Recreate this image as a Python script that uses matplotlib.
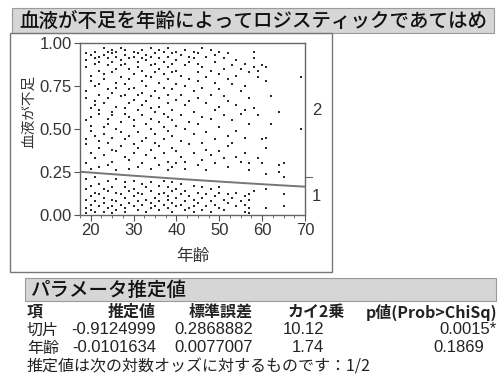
import numpy as np
import matplotlib
matplotlib.use("Agg")
import matplotlib.pyplot as plt
from matplotlib.patches import Rectangle

# JMP logistic fit output: 血液が不足 vs 年齢
title = "血液が不足を年齢によってロジスティックであてはめ"
xlabel = "年齢"
ylabel = "血液が不足"

# points above the fitted curve (level 2), grouped by age
ages_hi = [19, 20, 21, 22, 23, 24, 25, 26, 27, 28, 29, 30, 31, 32, 33, 34, 35, 36, 37, 38,
           39, 40, 41, 42, 43, 44, 45, 46, 47, 48, 49, 50, 51, 52, 53, 54, 55, 56, 57, 58,
           59, 60, 61, 62, 64, 65, 69]
vals_hi = [
    [0.94, 0.90, 0.86, 0.72, 0.68, 0.55, 0.44, 0.41, 0.30],
    [0.93, 0.81, 0.78, 0.62, 0.57, 0.49, 0.36, 0.27, 0.52],
    [0.95, 0.88, 0.75, 0.66, 0.64, 0.46, 0.33, 0.91],
    [0.89, 0.84, 0.70, 0.59, 0.43, 0.39, 0.28, 0.76, 0.92, 0.61],
    [0.97, 0.82, 0.79, 0.65, 0.51, 0.47, 0.35, 0.93],
    [0.91, 0.87, 0.73, 0.56, 0.53, 0.42, 0.29, 0.95, 0.68],
    [0.96, 0.94, 0.83, 0.71, 0.60, 0.58, 0.45, 0.38, 0.89, 0.31],
    [0.92, 0.85, 0.77, 0.74, 0.63, 0.50, 0.37, 0.95, 0.26],
    [0.97, 0.90, 0.69, 0.54, 0.48, 0.40, 0.80, 0.87],
    [0.93, 0.88, 0.76, 0.62, 0.59, 0.44, 0.34, 0.96, 0.70],
    [0.91, 0.79, 0.73, 0.57, 0.46, 0.32, 0.85, 0.65, 0.27],
    [0.95, 0.92, 0.82, 0.67, 0.55, 0.52, 0.41, 0.36, 0.74],
    [0.89, 0.86, 0.70, 0.61, 0.48, 0.39, 0.94, 0.28],
    [0.96, 0.84, 0.78, 0.64, 0.58, 0.43, 0.30, 0.91, 0.71],
    [0.93, 0.90, 0.75, 0.66, 0.53, 0.45, 0.35, 0.81],
    [0.97, 0.87, 0.80, 0.69, 0.56, 0.50, 0.38, 0.27, 0.92, 0.62],
    [0.94, 0.83, 0.72, 0.60, 0.47, 0.42, 0.88, 0.33],
    [0.91, 0.85, 0.77, 0.68, 0.54, 0.40, 0.29, 0.96, 0.63],
    [0.95, 0.89, 0.74, 0.59, 0.51, 0.44, 0.36, 0.82],
    [0.92, 0.86, 0.79, 0.65, 0.57, 0.49, 0.31, 0.97, 0.70, 0.26],
    [0.94, 0.88, 0.73, 0.61, 0.46, 0.39, 0.28, 0.83, 0.55],
    [0.90, 0.84, 0.76, 0.67, 0.52, 0.37, 0.95, 0.30],
    [0.93, 0.81, 0.70, 0.58, 0.43, 0.34],
    [0.96, 0.87, 0.75, 0.64, 0.50, 0.31, 0.27],
    [0.89, 0.79, 0.66, 0.54, 0.41, 0.92],
    [0.95, 0.91, 0.72, 0.60, 0.47, 0.36],
    [0.94, 0.83, 0.78, 0.68, 0.53, 0.29, 0.88],
    [0.97, 0.86, 0.74, 0.57, 0.42, 0.32],
    [0.92, 0.80, 0.65, 0.48, 0.38, 0.26],
    [0.96, 0.84, 0.70, 0.56, 0.35],
    [0.93, 0.89, 0.77, 0.61, 0.44, 0.30],
    [0.95, 0.82, 0.73, 0.63, 0.51, 0.37],
    [0.91, 0.85, 0.69, 0.58, 0.33],
    [0.94, 0.79, 0.66, 0.46, 0.40, 0.28],
    [0.87, 0.76, 0.55, 0.42],
    [0.90, 0.81, 0.64, 0.49, 0.34],
    [0.85, 0.72, 0.59, 0.31],
    [0.88, 0.75, 0.61, 0.45, 0.36],
    [0.83, 0.68, 0.53, 0.30, 0.26],
    [0.95, 0.91, 0.86, 0.62],
    [0.84, 0.80, 0.58, 0.33],
    [0.87, 0.44, 0.30],
    [0.86, 0.78, 0.45, 0.39, 0.24],
    [0.69, 0.53],
    [0.60, 0.29, 0.25],
    [0.30, 0.22],
    [0.80, 0.50],
]

# points below the fitted curve (level 1)
ages_lo = [19, 20, 21, 22, 23, 24, 25, 26, 27, 28, 29, 30, 31, 32, 33, 34, 35, 36, 37, 38,
           39, 40, 41, 42, 43, 44, 45, 46, 47, 48, 49, 50, 51, 52, 53, 54, 55, 56, 57, 58,
           61, 65]
vals_lo = [
    [0.21, 0.15, 0.09, 0.04, 0.01], [0.17, 0.11, 0.06, 0.03], [0.22, 0.13, 0.08, 0.02],
    [0.18, 0.12, 0.05], [0.15, 0.10, 0.07, 0.02], [0.20, 0.14, 0.04],
    [0.16, 0.09, 0.05, 0.01], [0.21, 0.13, 0.08, 0.03], [0.12, 0.06],
    [0.19, 0.16, 0.10, 0.04, 0.02], [0.14, 0.07], [0.20, 0.15, 0.11, 0.05],
    [0.13, 0.08, 0.03], [0.18, 0.12, 0.06], [0.16, 0.09, 0.02],
    [0.19, 0.14, 0.07, 0.04], [0.10, 0.05], [0.17, 0.12, 0.08, 0.03],
    [0.20, 0.13, 0.06], [0.16, 0.11, 0.09, 0.04], [0.19, 0.14, 0.07, 0.02],
    [0.15, 0.10, 0.05], [0.18, 0.12, 0.06], [0.14, 0.08, 0.03], [0.11, 0.04],
    [0.17, 0.09, 0.05, 0.02], [0.13, 0.07], [0.16, 0.10, 0.03], [0.12, 0.05],
    [0.15, 0.08, 0.02], [0.11, 0.06], [0.16, 0.13, 0.04], [0.09, 0.03],
    [0.12, 0.07], [0.10], [0.13, 0.05], [0.08], [0.11, 0.06, 0.02],
    [0.12, 0.09, 0.04, 0.01], [0.14], [0.15, 0.04], [0.12, 0.05],
]

# parameter estimates
b0 = -0.9124999
b1 = -0.0101634
col_names = ["項", "推定値", "標準誤差", "カイ2乗", "p値(Prob>ChiSq)"]
terms = ["切片", "年齢"]
estimates = ["-0.9124999", "-0.0101634"]
std_errs = ["0.2868882", "0.0077007"]
chisq = ["10.12", "1.74"]
pvals = ["0.0015*", "0.1869"]
note = "推定値は次の対数オッズに対するものです：1/2"

W, H = 499, 389
fig = plt.figure(figsize=(W / 100, H / 100), dpi=100)
fig.patch.set_facecolor("white")

jp = ["Noto Sans CJK JP", "DejaVu Sans"]
num = ["Liberation Sans", "Noto Sans CJK JP"]


def fx(x):
    return x / W


def fy(y):
    return 1 - y / H


def box(x0, y0, x1, y1, **kw):
    fig.patches.append(Rectangle((fx(x0), fy(y1)), fx(x1) - fx(x0), fy(y0) - fy(y1),
                                 transform=fig.transFigure, **kw))


# title bar and outer frame
box(12, 8, 494, 33, facecolor="#d6d6d6", edgecolor="#9a9a9a", lw=0.8)
fig.text(fx(19), fy(21), title, family=jp, fontsize=14, fontweight="medium",
         color="#111", va="center")
box(10, 33, 332, 272, facecolor="none", edgecolor="#777", lw=1.0)

ax = fig.add_axes([fx(80), fy(215), fx(305) - fx(80), fy(43) - fy(215)])
xs_hi = [a for a, v in zip(ages_hi, vals_hi) for _ in v]
ys_hi = [y for v in vals_hi for y in v]
xs_lo = [a for a, v in zip(ages_lo, vals_lo) for _ in v]
ys_lo = [y for v in vals_lo for y in v]
ax.scatter(xs_hi, ys_hi, s=4.5, marker="s", color="#2a2a2a", linewidths=0)
ax.scatter(xs_lo, ys_lo, s=4.5, marker="s", color="#2a2a2a", linewidths=0)

xc = np.linspace(17.5, 70, 100)
pc = 1 / (1 + np.exp(-(b0 + b1 * xc)))
ax.plot(xc, pc, color="#777", lw=1.4)

ax.set_xlim(17.5, 70)
ax.set_ylim(0, 1)
ax.set_xticks([20, 30, 40, 50, 60, 70])
ax.set_xticks(np.arange(17.5, 70.1, 2.5), minor=True)
ax.set_yticks([0, 0.25, 0.5, 0.75, 1.0])
ax.set_yticklabels(["0.00", "0.25", "0.50", "0.75", "1.00"])
for lab in ax.get_xticklabels() + ax.get_yticklabels():
    lab.set_family(num)
    lab.set_fontsize(12)
    lab.set_color("#333")
ax.tick_params(which="major", length=4, width=0.8, color="#555", pad=2)
ax.tick_params(which="minor", length=2, width=0.6, color="#555")
for s in ax.spines.values():
    s.set_color("#666")
    s.set_linewidth(1.0)

# right-side level labels at the marginal split
ax.text(1.03, 0.61, "2", transform=ax.transAxes, family=num, fontsize=12,
        color="#333", va="center")
ax.text(1.03, 0.11, "1", transform=ax.transAxes, family=num, fontsize=12,
        color="#333", va="center")
ax.plot([1.0, 1.03], [0.22, 0.22], transform=ax.transAxes, color="#666", lw=0.8,
        clip_on=False)

fig.text(fx(193), fy(257), xlabel, family=jp, fontsize=12, color="#333",
         ha="center", va="center")
fig.text(fx(29), fy(111), ylabel, family=jp, fontsize=10.5, color="#333",
         ha="center", va="center", rotation=90)

# parameter estimates section
box(25, 278, 496, 301, facecolor="#d6d6d6", edgecolor="#9a9a9a", lw=0.8)
fig.text(fx(31), fy(290), "パラメータ推定値", family=jp, fontsize=14,
         fontweight="medium", color="#111", va="center")

col_x = [27, 156, 253, 345, 497]
row_y = [312, 330, 348]
for j, name in enumerate(col_names):
    fig.text(fx(col_x[j]), fy(row_y[0]), name, family=jp, fontsize=11.5,
             fontweight="bold", color="#222", va="center",
             ha="left" if j == 0 else "right")
num_x = [156, 253, 324, 497]
for i in range(len(terms)):
    y = row_y[i + 1]
    fig.text(fx(27), fy(y), terms[i], family=jp, fontsize=11.5, color="#222",
             va="center")
    vals = [estimates[i], std_errs[i], chisq[i], pvals[i]]
    for j, v in enumerate(vals):
        xr = num_x[j]
        if j == 3 and not v.endswith("*"):
            xr = 484
        fig.text(fx(xr), fy(y), v, family=num, fontsize=12, color="#222",
                 va="center", ha="right")
fig.text(fx(27), fy(367), note, family=jp, fontsize=11.5, color="#222", va="center")

fig.savefig("out.png", dpi=100)
